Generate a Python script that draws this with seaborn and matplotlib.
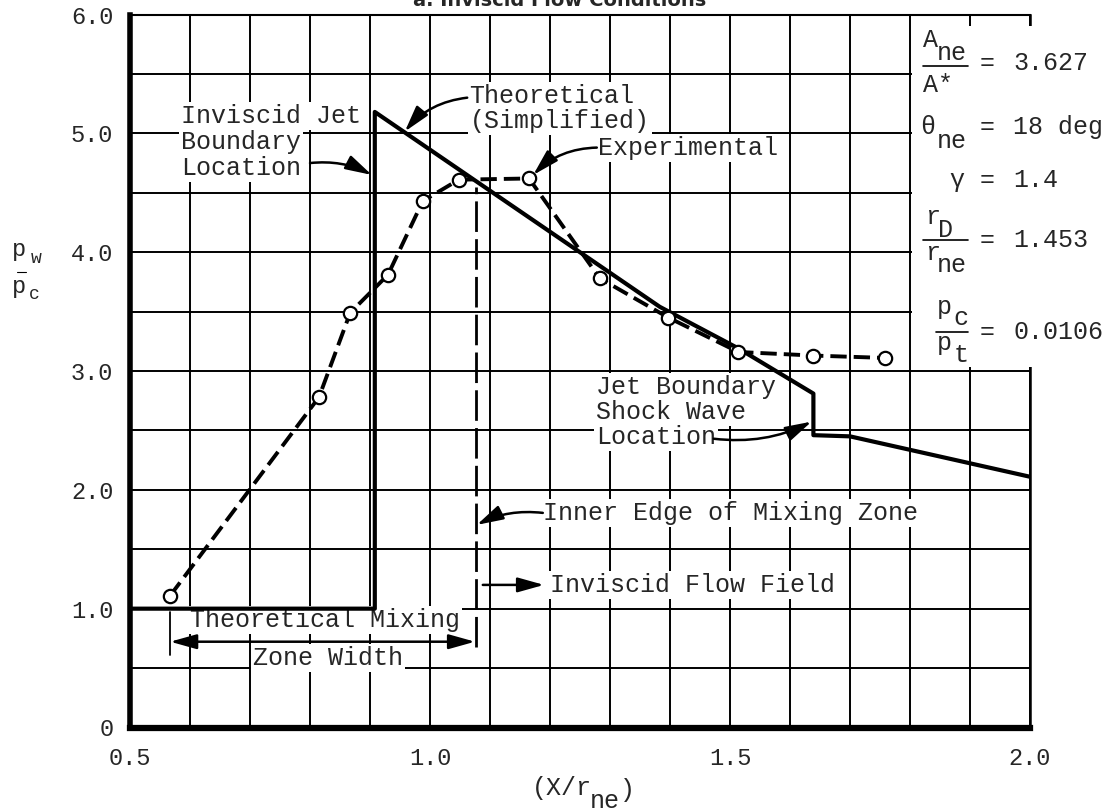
import matplotlib.pyplot as plt
import numpy as np
import pandas as pd
import seaborn as sns
from matplotlib.patches import Rectangle

# theoretical (simplified) wall pressure distribution
theory_x = [0.5, 0.908, 0.908, 1.383, 1.514, 1.639, 1.639, 1.70, 2.0]
theory_y = [1.0, 1.0, 5.18, 3.54, 3.19, 2.81, 2.46, 2.45, 2.11]

# experimental data points
exp_x = [0.567, 0.815, 0.867, 0.930, 0.988, 1.048, 1.165, 1.283, 1.397, 1.514, 1.639, 1.758]
exp_y = [1.11, 2.78, 3.49, 3.81, 4.43, 4.61, 4.62, 3.78, 3.45, 3.16, 3.13, 3.11]

# inner edge of the mixing zone and start of the mixing zone
mix_edge_x = 1.076
mix_edge_y = [0.68, 4.55]
mix_start_x = 0.567

x_ticks = [0.5, 1.0, 1.5, 2.0]
x_tick_labels = ["0.5", "1.0", "1.5", "2.0"]
y_ticks = [0, 1, 2, 3, 4, 5, 6]
y_tick_labels = ["0", "1.0", "2.0", "3.0", "4.0", "5.0", "6.0"]

sns.set_style("white")
plt.rcParams["font.family"] = ["Liberation Mono", "DejaVu Sans"]
FS = 18

fig = plt.figure(figsize=(11.1, 8.11), dpi=100)
ax = fig.add_axes([130 / 1110, 1 - 727.5 / 811, 900 / 1110, 713 / 811])

theory = pd.DataFrame({"x": theory_x, "y": theory_y})
sns.lineplot(data=theory, x="x", y="y", sort=False, estimator=None,
             color="black", lw=3, ax=ax, zorder=4)

exp = pd.DataFrame({"x": exp_x, "y": exp_y})
sns.lineplot(data=exp, x="x", y="y", sort=False, estimator=None,
             color="black", lw=2.8, linestyle=(0, (4.2, 1.8)), ax=ax, zorder=4)
sns.scatterplot(data=exp, x="x", y="y", marker="o", s=92, facecolor="white",
                edgecolor="black", linewidth=1.6, ax=ax, zorder=5)

ax.plot([mix_edge_x, mix_edge_x], mix_edge_y, color="black", lw=2,
        linestyle=(0, (11, 2.6)), zorder=4)
ax.plot([mix_start_x, mix_start_x], [0.61, 0.975], color="black", lw=1.3, zorder=4)

ax.set_xlim(0.5, 2.0)
ax.set_ylim(0, 6)
ax.set_xticks(x_ticks)
ax.set_xticklabels(x_tick_labels)
ax.set_xticks(np.arange(0.5, 2.001, 0.1), minor=True)
ax.set_yticks(y_ticks)
ax.set_yticklabels(y_tick_labels)
ax.set_yticks(np.arange(0, 6.01, 0.5), minor=True)
ax.grid(which="both", color="black", lw=1.4)
ax.set_axisbelow(True)
ax.tick_params(which="both", length=0)
ax.tick_params(axis="x", pad=14, labelsize=17)
ax.tick_params(axis="y", pad=12, labelsize=17)
ax.set_xlabel("")
ax.set_ylabel("")
for side, w in [("left", 4), ("bottom", 4.5), ("top", 1.5), ("right", 1.8)]:
    ax.spines[side].set_color("black")
    ax.spines[side].set_linewidth(w)

# white panel behind the parameter list
ax.add_patch(Rectangle((1.803, 3.03), 0.3, 2.87, facecolor="white",
                       edgecolor="none", zorder=3, clip_on=False))

box = dict(facecolor="white", edgecolor="none", pad=1.5)


def label(x, y, s, size=FS, ha="left", bg=True):
    ax.text(x, y, s, fontsize=size, ha=ha, va="center", zorder=3.5,
            bbox=box if bg else None, clip_on=False)


def arrow(start, tip, rad=0.0, style="-|>"):
    ax.annotate("", xy=tip, xytext=start, zorder=4.5,
                arrowprops=dict(arrowstyle=style + ",head_length=1.0,head_width=0.28",
                                mutation_scale=16, lw=1.8, color="black",
                                shrinkA=0, shrinkB=0,
                                connectionstyle=f"arc3,rad={rad}"))


for yy, s in zip([5.146, 4.927, 4.708], ["Inviscid Jet", "Boundary", "Location"]):
    label(0.585, yy, s)
arrow((0.80, 4.75), (0.903, 4.65), rad=-0.15)

label(1.066, 5.31, "Theoretical")
label(1.066, 5.10, "(Simplified)")
arrow((1.062, 5.30), (0.958, 5.015), rad=0.2)

label(1.28, 4.88, "Experimental")
arrow((1.278, 4.88), (1.172, 4.65), rad=0.2)

for yy, s in zip([2.866, 2.656, 2.445], ["Jet Boundary", "Shock Wave", "Location"]):
    label(1.277, yy, s)
arrow((1.473, 2.43), (1.636, 2.574), rad=0.15)

label(1.188, 1.806, "Inner Edge of Mixing Zone")
arrow((1.188, 1.806), (1.078, 1.705), rad=0.15)

label(1.20, 1.20, "Inviscid Flow Field")
arrow((1.088, 1.20), (1.19, 1.20))

label(0.60, 0.905, "Theoretical Mixing")
label(0.705, 0.585, "Zone Width")
arrow((0.567, 0.722), (1.075, 0.722), style="<|-|>")

# parameter list
label(1.822, 5.787, "A", bg=False)
label(1.845, 5.68, "ne", bg=False)
label(1.822, 5.408, "A*", bg=False)
label(1.817, 5.05, "θ", bg=False)
label(1.845, 4.933, "ne", bg=False)
label(1.878, 4.609, "γ", ha="center", bg=False)
label(1.825, 4.297, "r", bg=False)
label(1.847, 4.188, "D", bg=False)
label(1.825, 3.994, "r", bg=False)
label(1.845, 3.893, "ne", bg=False)
label(1.845, 3.540, "p", bg=False)
label(1.872, 3.447, "c", bg=False)
label(1.845, 3.237, "p", bg=False)
label(1.872, 3.136, "t", bg=False)
for yy, v in zip([5.593, 5.05, 4.609, 4.104, 3.329],
                 ["3.627", "18 deg", "1.4", "1.453", "0.0106"]):
    label(1.928, yy, "=", ha="center", bg=False)
    label(1.972, yy, v, bg=False)
for x0, x1, yy in [(1.822, 1.897, 5.568), (1.822, 1.897, 4.104), (1.843, 1.897, 3.329)]:
    ax.plot([x0, x1], [yy, yy], color="black", lw=1.2, zorder=4, clip_on=False)

# axis labels
label(0.303, 4.02, "p", size=17, bg=False)
label(0.335, 3.95, "w", size=13, bg=False)
label(0.303, 3.708, "p", size=17, bg=False)
label(0.332, 3.64, "c", size=13, bg=False)
ax.plot([0.312, 0.326], [3.83, 3.83], color="black", lw=0.8, clip_on=False)

label(1.17, -0.509, "(X/r", bg=False)
label(1.267, -0.615, "ne", bg=False)
label(1.317, -0.53, ")", bg=False)

fig.text(560 / 1110, 1 - 6 / 811, "a. Inviscid Flow Conditions", ha="center",
         va="baseline", fontsize=14, fontweight="bold", family="DejaVu Sans")

fig.savefig("out.png", dpi=100)
